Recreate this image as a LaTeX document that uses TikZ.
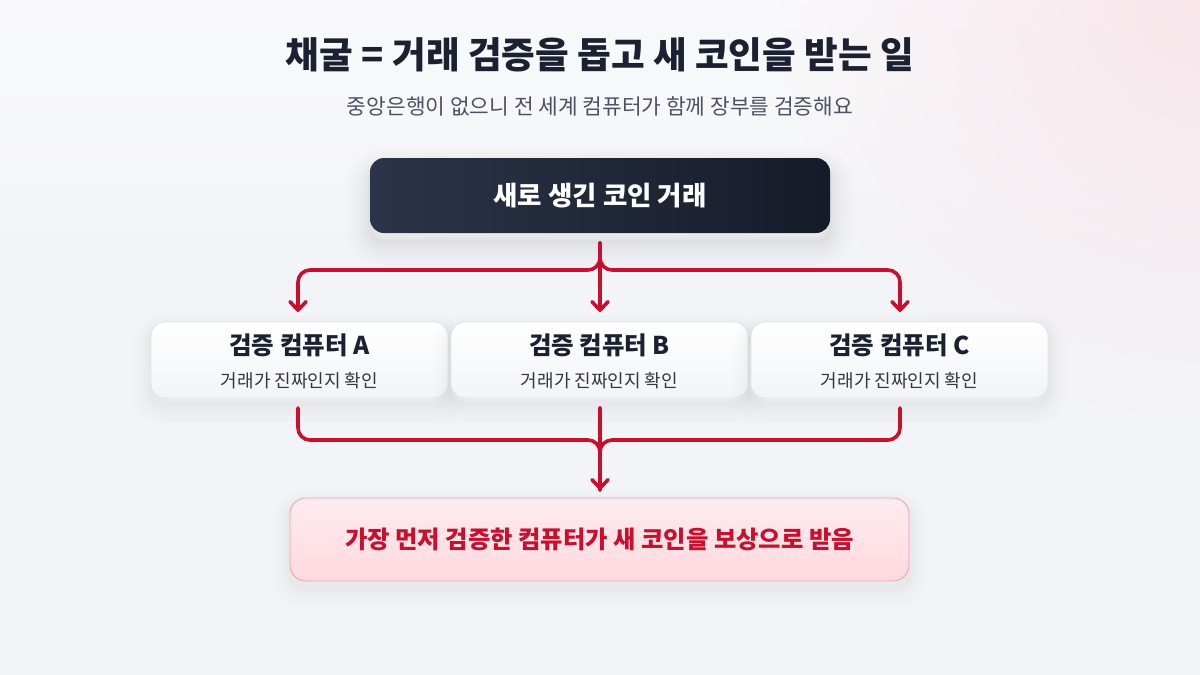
\documentclass[tikz,border=0pt]{standalone}
\usepackage{fontspec}
\setmainfont{Noto Sans CJK KR}
\usetikzlibrary{arrows.meta,calc,fadings}
\definecolor{bgc}{HTML}{F3F4F7}
\definecolor{glow}{HTML}{F8E6EB}
\definecolor{navy}{HTML}{1B2130}
\definecolor{subgray}{HTML}{4B5263}
\definecolor{darkA}{HTML}{2B3448}
\definecolor{darkB}{HTML}{161B29}
\definecolor{accred}{HTML}{C8102E}
\definecolor{pinkT}{HTML}{FFECEF}
\definecolor{pinkB}{HTML}{FFD9DF}
\definecolor{pinkBorder}{HTML}{F2A3AE}
\definecolor{cardB}{HTML}{F3F4F7}
\definecolor{cardBorder}{HTML}{E2E4EA}
\tikzfading[name=glowfade, inner color=transparent!0, outer color=transparent!100]
\tikzset{
  softshadow/.style={
    preaction={draw=black, draw opacity=0.006, line width=36pt, transform canvas={yshift=-10pt}},
    preaction={draw=black, draw opacity=0.007, line width=28pt, transform canvas={yshift=-9pt}},
    preaction={draw=black, draw opacity=0.008, line width=20pt, transform canvas={yshift=-8pt}},
    preaction={draw=black, draw opacity=0.01, line width=13pt, transform canvas={yshift=-7pt}},
    preaction={draw=black, draw opacity=0.012, line width=7pt, transform canvas={yshift=-6pt}}},
  bigshadow/.style={
    preaction={draw=black, draw opacity=0.008, line width=48pt, transform canvas={yshift=-14pt}},
    preaction={draw=black, draw opacity=0.01, line width=38pt, transform canvas={yshift=-13pt}},
    preaction={draw=black, draw opacity=0.012, line width=28pt, transform canvas={yshift=-12pt}},
    preaction={draw=black, draw opacity=0.014, line width=19pt, transform canvas={yshift=-11pt}},
    preaction={draw=black, draw opacity=0.016, line width=11pt, transform canvas={yshift=-10pt}},
    preaction={draw=black, draw opacity=0.018, line width=4pt, transform canvas={yshift=-9pt}}},
  topbox/.style={bigshadow, rounded corners=14pt, left color=darkA, right color=darkB,
    minimum width=460pt, minimum height=75pt, inner sep=0pt, text=white,
    font=\fontsize{26.5}{30}\selectfont\bfseries},
  cardbox/.style={softshadow, rounded corners=14pt, top color=white, bottom color=cardB,
    draw=cardBorder, line width=0.8pt, minimum width=297pt, minimum height=76pt, inner sep=0pt},
  cardtitle/.style={text=navy, font=\fontsize{24.5}{28}\selectfont\bfseries, inner sep=0pt},
  cardsub/.style={text=navy!90, font=\fontsize{18}{22}\selectfont, inner sep=0pt},
  resultbox/.style={softshadow, rounded corners=16pt, top color=pinkT, bottom color=pinkB,
    draw=pinkBorder, line width=0.9pt, minimum width=619pt, minimum height=83pt, inner sep=0pt,
    text=accred, font=\fontsize{24.3}{28}\selectfont\bfseries},
  conn/.style={draw=accred, line width=3.6pt, line cap=round, line join=round, rounded corners=12pt},
  tip/.style={-{Straight Barb[length=8.5pt,width=16pt,line cap=round,line join=round]}}
}
\begin{document}
\begin{tikzpicture}[x=1pt,y=-1pt]
\useasboundingbox (0,0) rectangle (1200,675);
\begin{scope}
\clip (0,0) rectangle (1200,675);
\fill[bgc] (0,0) rectangle (1200,675);
\shade[top color=white!60!bgc, bottom color=bgc, opacity=0.8] (0,0) rectangle (1200,300);
\fill[glow, path fading=glowfade] (1200,0) circle (420);
\end{scope}

\node[text=navy, font=\fontsize{36.6}{42}\selectfont\bfseries] (title) at (600,55) {채굴 = 거래 검증을 돕고 새 코인을 받는 일};
\node[text=subgray, font=\fontsize{21.4}{26}\selectfont] (subtitle) at (600,106) {중앙은행이 없으니 전 세계 컴퓨터가 함께 장부를 검증해요};

\node[topbox] (src) at (600,195.5) {새로 생긴 코인 거래};

\node[cardbox] (cA) at (299.5,360) {};
\node[cardbox] (cB) at (599.5,360) {};
\node[cardbox] (cC) at (899.5,360) {};
\node[cardtitle] (tA) at (299.5,345) {검증 컴퓨터 A};
\node[cardsub] (sA) at (299.5,381) {거래가 진짜인지 확인};
\node[cardtitle] (tB) at (599.5,345) {검증 컴퓨터 B};
\node[cardsub] (sB) at (599.5,381) {거래가 진짜인지 확인};
\node[cardtitle] (tC) at (899.5,345) {검증 컴퓨터 C};
\node[cardsub] (sC) at (899.5,381) {거래가 진짜인지 확인};

\node[resultbox] (res) at (599.5,539.5) {가장 먼저 검증한 컴퓨터가 새 코인을 보상으로 받음};

% top connectors
\coordinate (s0) at (600,243);
\coordinate (hub1) at (600,270);
\coordinate (aA) at (298,312);
\coordinate (aB) at (600,312);
\coordinate (aC) at (900,312);
\draw[conn,tip] (s0) -- (hub1) -| (aA);
\draw[conn,tip] (s0) -- (hub1) -| (aC);
\draw[conn,tip] (s0) -- (aB);

% bottom connectors
\coordinate (bA) at (298,408);
\coordinate (bB) at (600,408);
\coordinate (bC) at (900,408);
\coordinate (hub2) at (600,440);
\coordinate (aR) at (600,490);
\draw[conn] (bA) |- (hub2) -- (aR);
\draw[conn] (bC) |- (hub2) -- (aR);
\draw[conn,tip] (bB) -- (aR);
\end{tikzpicture}
\end{document}
